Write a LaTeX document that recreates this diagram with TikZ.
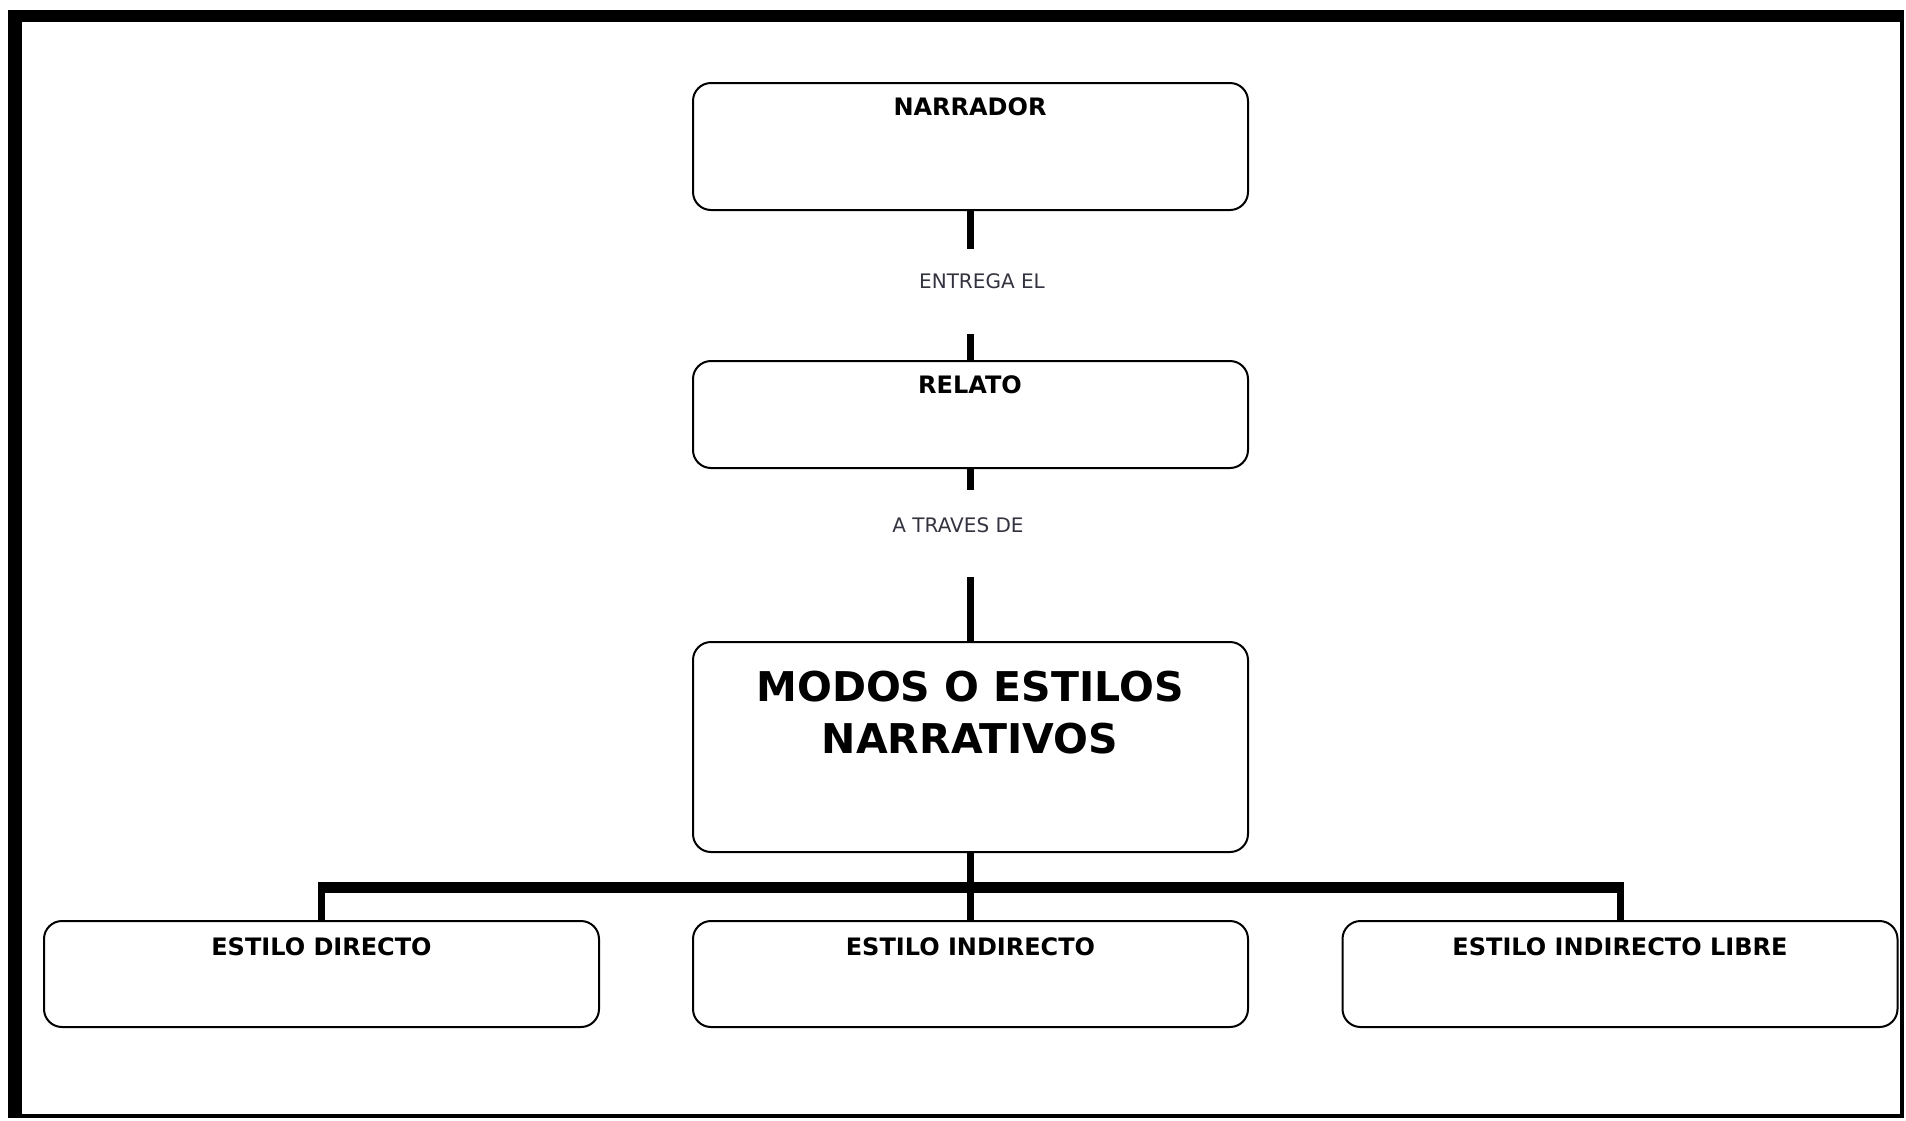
\documentclass[tikz,border=0pt]{standalone}
\usepackage{fontspec}
\setmainfont{DejaVu Sans}
\usetikzlibrary{calc}
\definecolor{lblgray}{HTML}{333340}
\tikzset{
  box/.style={draw=black, line width=1pt, rounded corners=9pt, minimum width=277.5pt, inner sep=0pt, fill=white},
  ttl/.style={font=\bfseries\fontsize{12}{14}\selectfont, text=black, inner sep=0pt},
  bigttl/.style={font=\bfseries\fontsize{20.5}{26}\selectfont, text=black, align=center, inner sep=0pt},
  small/.style={font=\fontsize{10}{12}\selectfont, text=lblgray, inner sep=0pt},
  conn/.style={line width=3.5pt, draw=black},
  barline/.style={line width=5.5pt, draw=black}
}
\begin{document}
\begin{tikzpicture}[x=0.5pt, y=-0.5pt]
\useasboundingbox (0,0) rectangle (1906,1120);
% frame
\fill[black] (8,10) rectangle (22,1118);
\fill[black] (8,10) rectangle (1904,22);
\fill[black] (1900,10) rectangle (1904,1118);
\fill[black] (8,1114) rectangle (1904,1118);

% boxes
\node[box, minimum height=63.5pt] (narr) at (970.5,146.5) {};
\node[box, minimum height=53.5pt] (relato) at (970.5,414.5) {};
\node[box, minimum height=105pt] (modos) at (970.5,747) {};
\node[box, minimum height=53pt] (d1) at (321.5,974) {};
\node[box, minimum height=53pt] (d2) at (970.5,974) {};
\node[box, minimum height=53pt] (d3) at (1620,974) {};

% titles
\node[ttl] (narrT) at (970,107) {NARRADOR};
\node[ttl] (relatoT) at (970,385) {RELATO};
\node[bigttl] (modosT) at (970,713) {MODOS O ESTILOS\\NARRATIVOS};
\node[ttl] (d1T) at (321.5,947) {ESTILO DIRECTO};
\node[ttl] (d2T) at (970.5,947) {ESTILO INDIRECTO};
\node[ttl] (d3T) at (1620,947) {ESTILO INDIRECTO LIBRE};

% link labels
\node[small] (entrega) at (982,281) {ENTREGA EL};
\node[small] (traves) at (958,525) {A TRAVES DE};

% connectors
\coordinate (c1) at (970.5,249);
\coordinate (c2) at (970.5,334);
\coordinate (c3) at (970.5,490);
\coordinate (c4) at (970.5,577);
\draw[conn] (narr.south) -- (c1);
\draw[conn] (c2) -- (relato.north);
\draw[conn] (relato.south) -- (c3);
\draw[conn] (c4) -- (modos.north);

\coordinate (bar) at (970.5,887);
\draw[conn] (modos.south) -- (bar);
\draw[barline] ($(d1.north |- bar)+(-3.5,0)$) -- ($(d3.north |- bar)+(3.5,0)$);
\draw[conn] (d1.north |- bar) -- (d1.north);
\draw[conn] (d2.north |- bar) -- (d2.north);
\draw[conn] (d3.north |- bar) -- (d3.north);
\end{tikzpicture}
\end{document}
